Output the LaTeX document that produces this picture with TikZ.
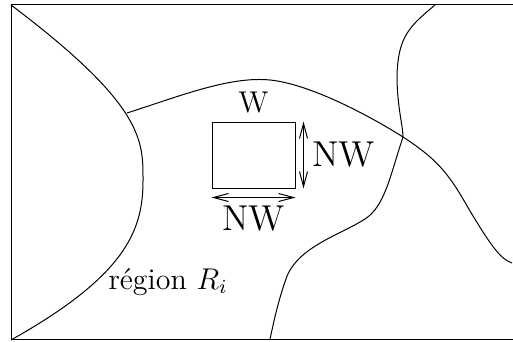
\documentclass[tikz,border=0pt]{standalone}
\usetikzlibrary{arrows.meta}
\begin{document}
\begin{tikzpicture}[x=0.4pt,y=0.4pt, >={Straight Barb[length=6pt,width=3.2pt]}]
        \useasboundingbox (0,0) rectangle (513,341);

        % Cadre de l'image
        \draw (513,336) -- (11,336) -- (11,2) -- (513,2);

        % Frontieres des regions
        \draw (11,336) .. controls (145,235) and (143,200) .. (143,160)
              .. controls (143,110) and (125,65) .. (11,1);
        \draw (127,228) .. controls (180,245) and (230,265) .. (270,261)
              .. controls (310,257) and (370,225) .. (403,204)
              .. controls (440,180) and (450,165) .. (470,130)
              .. controls (490,97) and (500,82) .. (512,78);
        \draw (435,336) .. controls (410,315) and (398,305) .. (397,265)
              .. controls (397,235) and (403,215) .. (403,204)
              .. controls (390,165) and (385,135) .. (365,122)
              .. controls (340,106) and (300,95) .. (287,65)
              .. controls (278,40) and (274,20) .. (270,2);

        % Fenetre W et ses dimensions
        \node[draw, minimum width=33.2pt, minimum height=26.4pt, inner sep=0pt] (fen) at (253.5,186) {};
        \node[above, font=\large] (w) at (fen.north) {W};
        \draw[<->] ([xshift=3.2pt]fen.north east) -- ([xshift=3.2pt]fen.south east) node[midway, right, font=\Large] (nwv) {NW};
        \draw[<->] ([yshift=-3.6pt]fen.south west) -- ([yshift=-3.6pt]fen.south east) node[midway, below, font=\Large] (nwh) {NW};

        % Nom de la region
        \node[font=\large] (reg) at (168,59) {région $R_i$};

    \end{tikzpicture}
\end{document}
